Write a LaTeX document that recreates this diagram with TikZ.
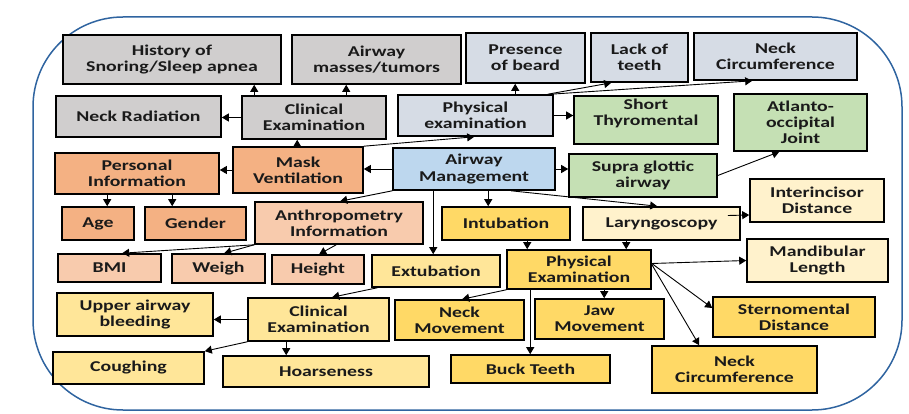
\documentclass[tikz,border=0pt]{standalone}
\usepackage{fontspec}
\setmainfont[FakeStretch=1.32]{Carlito}
\usetikzlibrary{arrows.meta}
\definecolor{cgray}{HTML}{D0CECE}
\definecolor{cbgray}{HTML}{D6DCE5}
\definecolor{cblue}{HTML}{BDD7EE}
\definecolor{cgreen}{HTML}{C5E0B4}
\definecolor{corange}{HTML}{F4B183}
\definecolor{clorange}{HTML}{F8CBAD}
\definecolor{cyellow}{HTML}{FFD966}
\definecolor{cmyellow}{HTML}{FFE699}
\definecolor{clyellow}{HTML}{FFF2CC}
\definecolor{cframe}{HTML}{2F64A0}
\definecolor{ctext}{HTML}{1A1A1A}
\newcommand\bx[7]{\node[box,fill=#6,minimum width={#4-#2},minimum height={#5-#3}] (#1) at ({(#2+#4)/2},{(#3+#5)/2}) {#7};}
\tikzset{
  box/.style={draw=black,line width=1.6pt,inner sep=0pt,align=center,text=ctext,
    font=\bfseries\fontsize{15}{16.2}\selectfont},
  arr/.style={line width=0.9pt,-{Triangle[length=7pt,width=8pt]}},
  frame/.style={draw=cframe,line width=1.5pt,rounded corners=90pt}
}
\begin{document}
\begin{tikzpicture}[x=1pt,y=-1pt]
\useasboundingbox (0,0) rectangle (909,414);
\path[frame] (33,17) rectangle (902,410);
% boxes
\bx{hist}{63}{35}{281}{84}{cgray}{History of\\Snoring/Sleep apnea}
\bx{mass}{292}{35}{461}{84}{cgray}{Airway\\masses/tumors}
\bx{nrad}{56}{96}{221}{137}{cgray}{Neck Radiation}
\bx{clin}{242}{96}{386}{139}{cgray}{Clinical\\Examination}
\bx{phys}{398}{95}{553}{136}{cbgray}{Physical\\examination}
\bx{beard}{466}{33}{585}{83}{cbgray}{Presence\\of beard}
\bx{lack}{591}{33}{688}{82}{cbgray}{Lack of\\teeth}
\bx{nca}{694}{33}{857}{80}{cbgray}{Neck\\Circumference}
\bx{thyro}{574}{96}{718}{144}{cgreen}{Short\\Thyromental\\\mbox{}}
\bx{atlanto}{734}{94}{867}{151}{cgreen}{Atlanto-\\occipital\\Joint}
\bx{mask}{233}{147}{363}{193}{corange}{Mask\\Ventilation}
\bx{pers}{55}{153}{219}{194}{corange}{Personal\\Information}
\bx{airway}{393}{148}{555}{190}{cblue}{Airway\\Management}
\bx{supra}{569}{154}{717}{197}{cgreen}{Supra glottic\\airway}
\bx{inter}{750}{179}{884}{222}{clyellow}{Interincisor\\Distance}
\bx{age}{62}{207}{134}{240}{corange}{Age}
\bx{gender}{145}{207}{246}{240}{corange}{Gender}
\bx{anthro}{255}{202}{423}{244}{clorange}{Anthropometry\\Information}
\bx{bmi}{58}{254}{161}{282}{clorange}{BMI}
\bx{weigh}{172}{254}{265}{283}{clorange}{Weigh}
\bx{height}{272}{255}{364}{284}{clorange}{Height}
\bx{extub}{372}{255}{500}{287}{cmyellow}{Extubation}
\bx{intub}{442}{207}{570}{240}{cyellow}{Intubation}
\bx{laryn}{583}{207}{740}{240}{clyellow}{Laryngoscopy}
\bx{pexam}{507}{250}{651}{289}{cyellow}{Physical\\Examination}
\bx{mand}{747}{239}{888}{282}{clyellow}{Mandibular\\Length}
\bx{upper}{57}{293}{213}{336}{cmyellow}{Upper airway\\bleeding}
\bx{cexam}{248}{298}{389}{341}{cmyellow}{Clinical\\Examination}
\bx{neckm}{395}{300}{524}{340}{cyellow}{Neck\\Movement}
\bx{jaw}{535}{299}{664}{339}{cyellow}{Jaw\\Movement}
\bx{stern}{713}{297}{875}{337}{cyellow}{Sternomental\\Distance}
\bx{ncb}{652}{346}{817}{393}{cyellow}{Neck\\Circumference}
\bx{buck}{451}{355}{610}{383}{cyellow}{Buck Teeth}
\bx{cough}{53}{352}{204}{384}{cmyellow}{Coughing}
\bx{hoarse}{223}{356}{429}{387}{cmyellow}{Hoarseness}
% connectors
\draw[arr] ([xshift=13pt]clin.north west) -- ([xshift=192pt]hist.south west);
\draw[arr] ([xshift=105pt]clin.north west) -- ([xshift=55pt]mass.south west);
\draw[arr] (clin.west) -- (clin.west -| nrad.east);
\draw[arr] ([xshift=65pt]mask.north west) -- ([xshift=56pt]clin.south west);
\draw[arr] (mask.north east) -- ([xshift=77pt]phys.south west);
\draw[arr] (airway.west) -- (airway.west -| mask.east);
\draw[arr] (mask.west) -- (mask.west -| pers.east);
\draw[arr] ([xshift=53pt]pers.south west) -- ([xshift=46pt]age.north west);
\draw[arr] ([xshift=118pt]pers.south west) -- ([xshift=28pt]gender.north west);
\draw[arr] (airway.south west) -- ([xshift=86pt]anthro.north west);
\draw[arr] ([xshift=41pt]airway.south west) -- ([xshift=62pt]extub.north west);
\draw[arr] ([xshift=96pt]airway.south west) -- ([xshift=47pt]intub.north west);
\draw[arr] ([xshift=119pt]airway.south west) -- ([xshift=75pt]laryn.north west);
\draw[arr] (airway.east) -- (airway.east -| supra.west);
\draw[arr] ([xshift=118pt]phys.north west) -- ([xshift=50pt]beard.south west);
\draw[arr] ([xshift=-6pt]phys.north east) -- ([xshift=21pt]lack.south west);
\draw[arr] ([xshift=-3pt]phys.north east) -- ([xshift=59pt]nca.south west);
\draw[arr] (phys.east) -- (phys.east -| thyro.west);
\draw[arr] (supra.east) -- ([xshift=46pt]atlanto.south west);
\draw[arr] ([xshift=-13pt,yshift=8pt]laryn.east) -- ([yshift=-14.5pt]inter.west);
\draw[arr] ([xshift=44pt]laryn.south west) -- ([xshift=120pt]pexam.north west);
\draw[arr] ([xshift=86pt]intub.south west) -- ([xshift=21pt]pexam.north west);
\draw[arr] ([yshift=6pt]pexam.east) -- (mand.west);
\draw[arr] ([yshift=6pt]pexam.east) -- ([yshift=9pt]stern.west);
\draw[arr] ([yshift=5pt]pexam.east) -- ([xshift=48pt]ncb.north west);
\draw[arr] ([xshift=98pt]pexam.south west) -- ([xshift=70pt]jaw.north west);
\draw[arr] (pexam.south west) -- ([xshift=68pt]neckm.north west);
\draw[arr] ([xshift=24pt]pexam.south west) -- ([xshift=80pt]buck.north west);
\draw[arr] (anthro.south west) -- ([xshift=65pt]bmi.north west);
\draw[arr] (anthro.south west) -- ([xshift=53pt]weigh.north west);
\draw[arr] ([xshift=82pt]anthro.south west) -- ([xshift=48pt]height.north west);
\draw[arr] ([xshift=6pt]extub.south west) -- ([xshift=85pt]cexam.north west);
\draw[arr] (cexam.west) -- (cexam.west -| upper.east);
\draw[arr] (cexam.south west) -- (cough.north east);
\draw[arr] ([xshift=39pt]cexam.south west) -- ([xshift=64pt]hoarse.north west);
\end{tikzpicture}
\end{document}
